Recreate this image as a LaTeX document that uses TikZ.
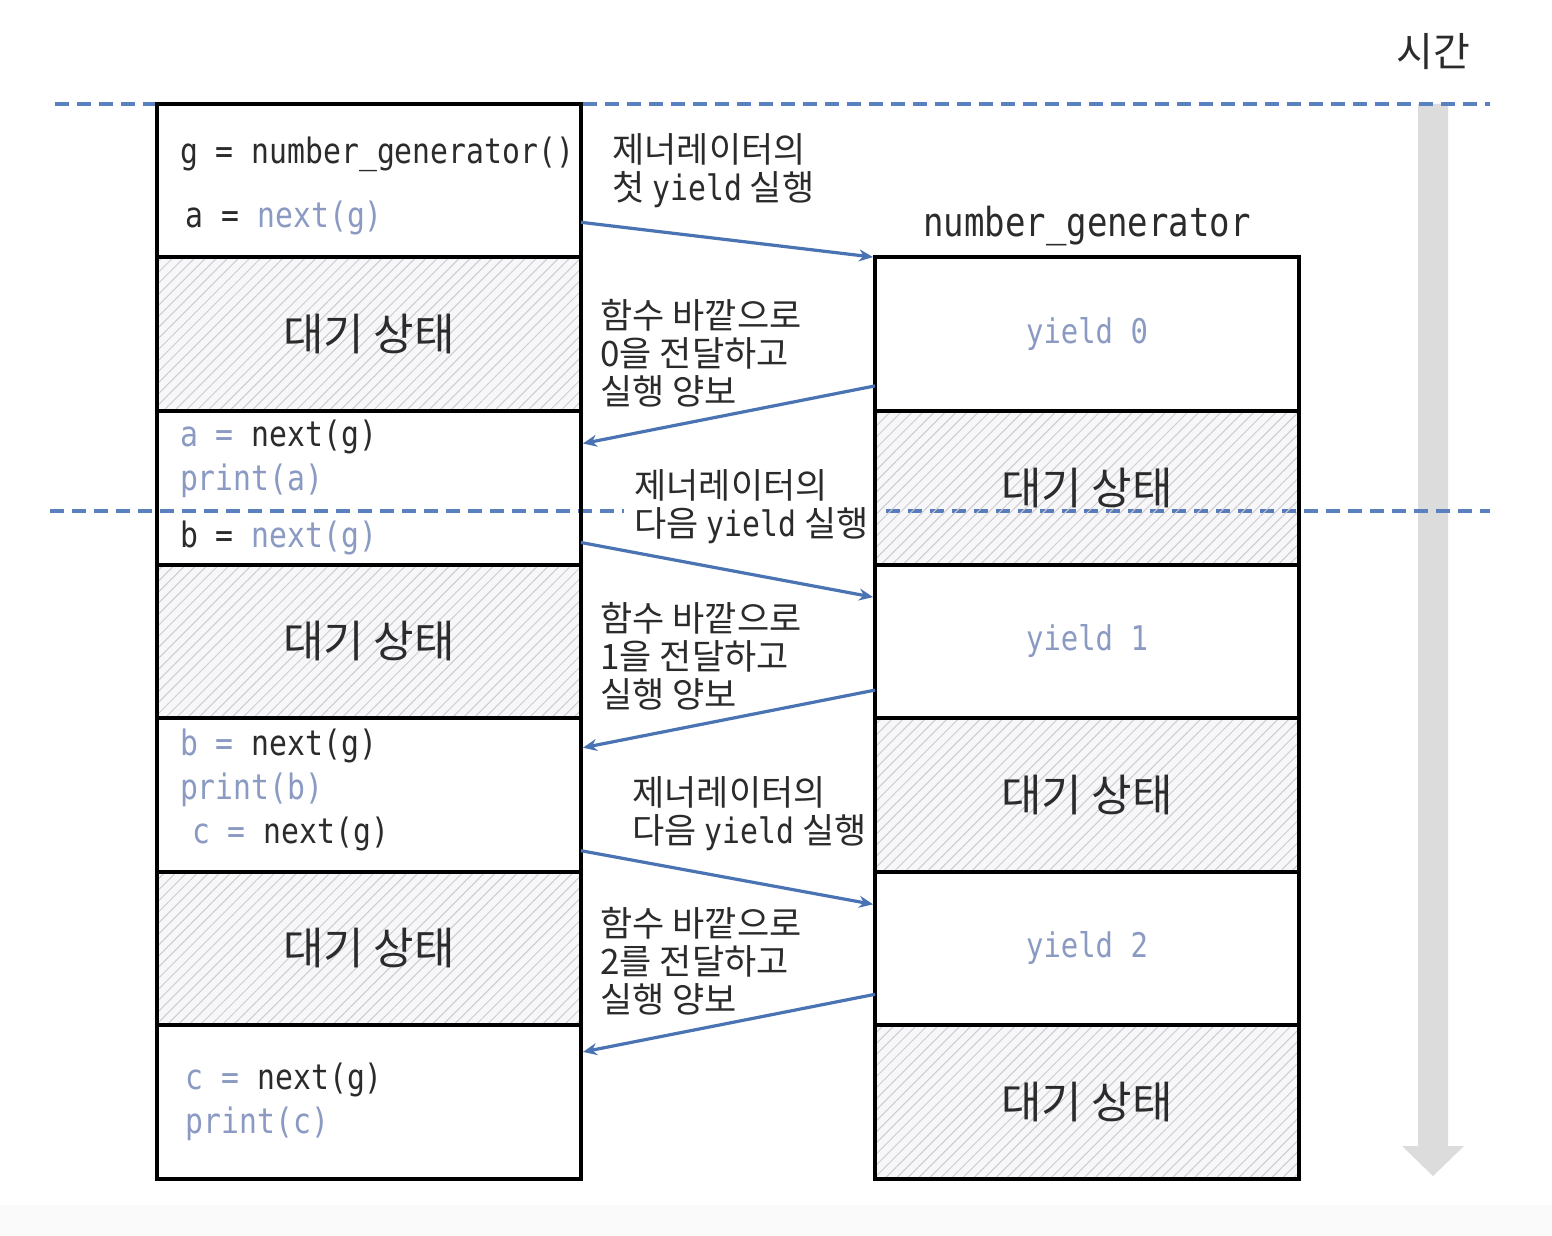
\documentclass[tikz,border=0pt]{standalone}
\usepackage{fontspec}
\setmainfont{Noto Sans CJK KR}
\newfontfamily\codefont[FakeStretch=0.85]{DejaVu Sans Mono}
\usetikzlibrary{positioning, arrows.meta, patterns.meta}

\definecolor{guideblue}{HTML}{5B80C0}
\definecolor{flowblue}{HTML}{4A73B3}
\definecolor{codeblue}{HTML}{8A9AC2}
\definecolor{codegray}{HTML}{2B2B2B}
\definecolor{timegray}{HTML}{DCDCDC}

\newcommand{\cb}[1]{\textcolor{codeblue}{#1}}

\tikzstyle{runbox} = [rectangle, draw, line width=2pt, outer sep=0pt, minimum width=212pt, minimum height=76.8pt, text width=189pt, inner xsep=11.5pt, align=flush left, text=codegray, font=\codefont\fontsize{17.5}{22}\selectfont]
\tikzstyle{waitbox} = [rectangle, draw, line width=2pt, outer sep=0pt, minimum width=212pt, minimum height=76.8pt, align=center, text=codegray, font=\fontsize{22}{26}\selectfont, preaction={fill=blue!30!black, fill opacity=0.03}, pattern={Lines[angle=45,distance=3.9pt,line width=0.5pt]}, pattern color=blue!10!black!20]
\tikzstyle{yieldbox} = [rectangle, draw, line width=2pt, outer sep=0pt, minimum width=212pt, minimum height=76.8pt, align=center, text=codeblue, font=\codefont\fontsize{17}{22}\selectfont]
\tikzstyle{tag} = [align=left, anchor=west, inner sep=0pt, text=codegray, font=\fontsize{17.5}{19}\selectfont]
\tikzstyle{flow} = [draw, ->, >={Stealth[length=7pt,width=6pt]}, line width=1.6pt, shorten >=1pt, flowblue]
\tikzstyle{guide} = [draw, guideblue, line width=1.7pt, dash pattern=on 7pt off 4pt]

\begin{document}
\begin{tikzpicture}[x=0.5pt, y=-0.5pt]

\useasboundingbox (0,0) rectangle (1552,1236);
\fill[white] (0,0) rectangle (1552,1236);
\fill[black!2] (0,1205) rectangle (1552,1236);

% time axis
\node[font=\fontsize{20}{24}\selectfont, text=codegray] (time) at (1433,52) {시간};
\fill[timegray] (1418,104) -- (1448,104) -- (1448,1146) -- (1464,1146) -- (1433,1176) -- (1402,1146) -- (1418,1146) -- cycle;

% step lines
\coordinate (s0w) at (55,104);
\coordinate (s0e) at (1490,104);
\coordinate (s1w) at (50,511);
\coordinate (s1e) at (1490,511);
\path[guide] (s0w) -- (s0e);
\path[guide] (s1w) -- (s1e);

\node[tag, fill=white, inner xsep=5pt] (next1) at (624,507) {제너레이터의\\다음 {\codefont yield} 실행};

% caller
\node [runbox] (L1) at (369,180.5) {\rule{0pt}{19pt}\mbox{g = number\_generator()}\\[10pt]\,a = \cb{next(g)}};
\node [waitbox, below=0pt of L1] (L2) {대기 상태};
\node [runbox, below=0pt of L2] (L3) {\cb{a =} next(g)\\\cb{print(a)}\\[6.5pt]b = \cb{next(g)}};
\node [waitbox, below=0pt of L3] (L4) {대기 상태};
\node [runbox, below=0pt of L4] (L5) {\cb{b =} next(g)\\\cb{print(b)}\\\hspace{6pt}\cb{c =} next(g)\rule[-9pt]{0pt}{9pt}};
\node [waitbox, below=0pt of L5] (L6) {대기 상태};
\node [runbox, below=0pt of L6] (L7) {\,\cb{c =} next(g)\\\,\cb{print(c)}};

% generator
\node [yieldbox, right=147pt of L2] (R1) {yield 0};
\node [waitbox, below=0pt of R1] (R2) {대기 상태};
\node [yieldbox, below=0pt of R2] (R3) {yield 1};
\node [waitbox, below=0pt of R3] (R4) {대기 상태};
\node [yieldbox, below=0pt of R4] (R5) {yield 2};
\node [waitbox, below=0pt of R5] (R6) {대기 상태};
\node [above=2pt of R1, text=codegray, font=\codefont\fontsize{20}{24}\selectfont] (gname) {number\_generator};

% labels
\node[tag] (first) at (612,171) {제너레이터의\\첫 {\codefont yield} 실행};
\node[tag] (give0) at (600,353) {함수 바깥으로\\0을 전달하고\\실행 양보};
\node[tag] (give1) at (600,656) {함수 바깥으로\\1을 전달하고\\실행 양보};
\node[tag] (next2) at (632,814) {제너레이터의\\다음 {\codefont yield} 실행};
\node[tag] (give2) at (600,961) {함수 바깥으로\\2를 전달하고\\실행 양보};

\path [flow] ([yshift=17.5pt]L1.south east) -- (R1.north west);
\path [flow] ([yshift=12.5pt]R1.south west) -- ([yshift=-16.5pt]L3.north east);
\path [flow] ([yshift=11pt]L3.south east) -- ([yshift=-16.5pt]R3.north west);
\path [flow] ([yshift=14pt]R3.south west) -- ([yshift=-15pt]L5.north east);
\path [flow] ([yshift=10.5pt]L5.south east) -- ([yshift=-16.5pt]R5.north west);
\path [flow] ([yshift=15.5pt]R5.south west) -- ([yshift=-13.5pt]L7.north east);

\end{tikzpicture}
\end{document}
